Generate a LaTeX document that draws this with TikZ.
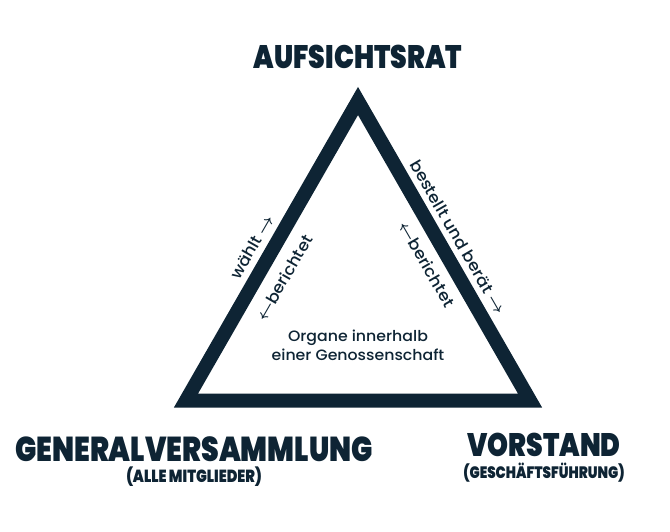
\documentclass[tikz,border=0pt]{standalone}
\usepackage{fontspec}
\setmainfont{Poppins}
\newfontfamily\headfont[FakeStretch=0.82]{Poppins Black}
\newfontfamily\labelfont[FakeStretch=1.05]{Poppins Medium}
\usetikzlibrary{positioning}
\definecolor{navy}{HTML}{0E2434}
\newcommand{\toarr}{{\mathversion{bold}$\rightarrow$}}
\newcommand{\fromarr}{{\mathversion{bold}$\leftarrow$}}

\begin{document}
\begin{tikzpicture}[x=1pt,y=-1pt,
  organ/.style={font=\headfont\fontsize{32.5}{32}\selectfont, text=navy, inner sep=0pt},
  organsub/.style={font=\headfont\fontsize{17.5}{17}\selectfont, text=navy, inner sep=0pt},
  duty/.style={font=\labelfont\fontsize{16}{16}\selectfont, text=navy, inner sep=1pt},
  side/.style={line width=14pt, draw=navy, line join=miter}]
\useasboundingbox (0,0) rectangle (670,531);
% corners of the triangle
\coordinate (top) at (358,101);
\coordinate (bl) at (186,400.5);
\coordinate (br) at (530,400.5);
\draw[side] (top) -- (bl) -- (br) -- cycle;
% the three organs
\node[organ] (ar) at (358,57) {AUFSICHTSRAT};
\node[organ, font=\headfont\fontsize{34.5}{34}\selectfont] (gv) at (194,449) {GENERALVERSAMMLUNG};
\node[organsub, below=5pt of gv] (gvsub) {(ALLE MITGLIEDER)};
\node[organ] (vs) at (544,445) {VORSTAND};
\node[organsub, font=\headfont\fontsize{16.5}{16}\selectfont, below=6pt of vs] (vssub) {(GESCHÄFTSFÜHRUNG)};
% duties along the sides
\node[duty, rotate=60] (waehlt) at (252,247) {wählt \toarr};
\node[duty, rotate=60] (berl) at (284,278) {\fromarr berichtet};
\node[duty, rotate=-60] (bestellt) at (458,237) {bestellt und berät \toarr};
\node[duty, rotate=-60] (berr) at (427,264) {\fromarr berichtet};
\node[duty, font=\labelfont\fontsize{15}{19}\selectfont, align=center] (organe) at (358,345)
  {Organe innerhalb\\einer Genossenschaft};
\end{tikzpicture}
\end{document}
